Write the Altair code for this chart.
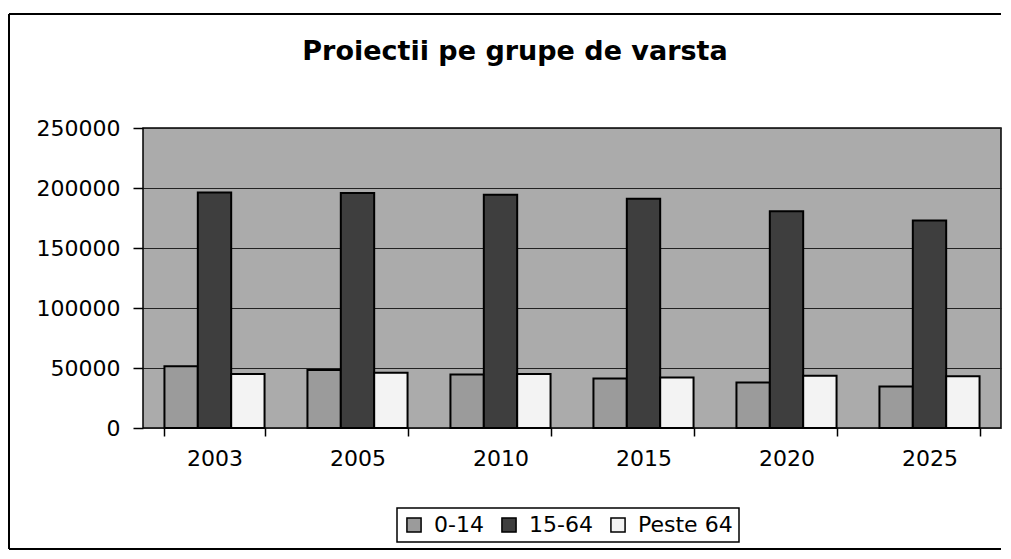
import altair as alt
import pandas as pd

title_text = "Proiectii pe grupe de varsta"
years = ["2003", "2005", "2010", "2015", "2020", "2025"]
groups = ["0-14", "15-64", "Peste 64"]
v_0_14 = [51400, 48400, 44500, 41200, 37900, 34600]
v_15_64 = [196200, 195800, 194300, 191000, 180700, 173000]
v_peste = [45000, 46000, 45100, 42100, 43500, 43100]
y_ticks = [0, 50000, 100000, 150000, 200000, 250000]
colors = ["#9b9b9b", "#3e3e3e", "#f3f3f3"]

rows = []
for i, yr in enumerate(years):
    rows.append({"An": yr, "Grupa": groups[0], "Valoare": v_0_14[i]})
    rows.append({"An": yr, "Grupa": groups[1], "Valoare": v_15_64[i]})
    rows.append({"An": yr, "Grupa": groups[2], "Valoare": v_peste[i]})
df = pd.DataFrame(rows)

FONT = "DejaVu Sans"

bars = alt.Chart(df).mark_bar(stroke="black", strokeWidth=2).encode(
    x=alt.X(
        "An:N",
        sort=years,
        scale=alt.Scale(paddingInner=0.3, paddingOuter=0.15),
        axis=alt.Axis(
            title=None, labelAngle=0, tickBand="extent", tickSize=8,
            labelPadding=12, labelFontSize=22, labelFont=FONT,
            labelColor="black", tickColor="black", tickWidth=1.5,
            domain=False, grid=False,
        ),
    ),
    xOffset=alt.XOffset("Grupa:N", sort=groups,
                        scale=alt.Scale(paddingInner=0, paddingOuter=0)),
    y=alt.Y(
        "Valoare:Q",
        scale=alt.Scale(domain=[0, 250000]),
        axis=alt.Axis(
            title=None, values=y_ticks, format="d", tickSize=10,
            labelPadding=13, labelFontSize=22, labelFont=FONT,
            labelColor="black", tickColor="black", tickWidth=1.5,
            domain=False, grid=True, gridColor="#222222", gridWidth=1,
        ),
    ),
    color=alt.Color(
        "Grupa:N",
        scale=alt.Scale(domain=groups, range=colors),
        legend=alt.Legend(
            title=None, orient="none", direction="horizontal",
            legendX=254, legendY=380,
            symbolType="square", symbolSize=200,
            symbolStrokeColor="black", symbolStrokeWidth=1.5,
            labelFont=FONT, labelFontSize=22, labelColor="black",
            labelOffset=9, columnPadding=14, padding=6,
            strokeColor="black", fillColor="white",
        ),
    ),
)

frame_df = pd.DataFrame({"k": [0]})
frame_left = alt.Chart(frame_df).mark_rule(color="black", strokeWidth=2).encode(
    x=alt.value(-134), x2=alt.value(-134), y=alt.value(-114), y2=alt.value(421)
)
frame_top = alt.Chart(frame_df).mark_rule(color="black", strokeWidth=2).encode(
    x=alt.value(-134), x2=alt.value(858), y=alt.value(-114), y2=alt.value(-114)
)
frame_bottom = alt.Chart(frame_df).mark_rule(color="black", strokeWidth=2).encode(
    x=alt.value(-134), x2=alt.value(858), y=alt.value(421), y2=alt.value(421)
)
title = alt.Chart(frame_df).mark_text(
    text=title_text, font=FONT, fontSize=27, fontWeight="bold",
    color="black", align="center", baseline="alphabetic",
).encode(x=alt.value(372), y=alt.value(-68))

chart = alt.layer(bars, frame_left, frame_top, frame_bottom, title).properties(
    width=858,
    height=300,
    padding={"left": 135, "top": 120, "right": 2, "bottom": 123},
    autosize=alt.AutoSizeParams(type="none"),
).configure_view(
    fill="#ababab", stroke="black", strokeWidth=1.5
).configure_legend(
    strokeWidth=1.5
)

chart.save("out.html", embed_options={"renderer": "svg", "actions": False})
